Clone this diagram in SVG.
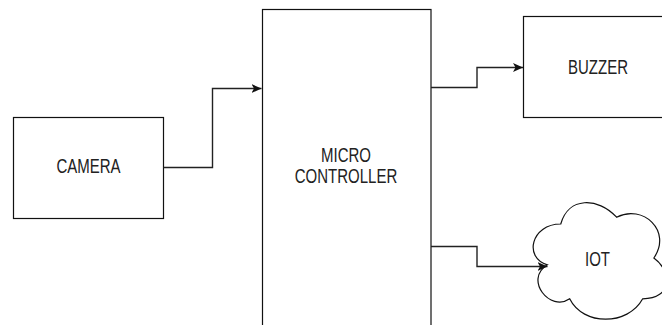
<svg xmlns="http://www.w3.org/2000/svg" width="662" height="325" viewBox="0 0 662 325">
<style>
.box{fill:#fff;stroke:#111;stroke-width:1.2}
.conn{fill:none;stroke:#222;stroke-width:1.4}
.lbl{font-family:"Liberation Sans",Arial,sans-serif;font-size:15px;fill:#222;text-anchor:middle}
</style>
<defs>
<marker id="arr" markerUnits="userSpaceOnUse" markerWidth="12" markerHeight="10" viewBox="-10 -5 12 10" refX="0" refY="0" orient="auto">
<path d="M-10,-4.5 L0,0 L-10,4.5 L-7.5,0 Z" fill="#111"/>
</marker>
</defs>
<rect width="662" height="325" fill="#fff"/>
<g id="camera">
<rect class="box" x="13.5" y="117.5" width="150" height="101"/>
<text class="lbl" transform="translate(88.5,172.5) scale(1,1.3)">CAMERA</text>
</g>
<g id="microcontroller">
<rect class="box" x="262.5" y="9.5" width="168.5" height="330"/>
<text class="lbl" transform="translate(346,161.5) scale(1,1.3)">MICRO</text>
<text class="lbl" transform="translate(346,182.5) scale(1,1.3)">CONTROLLER</text>
</g>
<g id="buzzer">
<rect class="box" x="523.5" y="16.5" width="149" height="101"/>
<text class="lbl" transform="translate(598,74) scale(1,1.3)">BUZZER</text>
</g>
<g id="iot">
<path class="box" d="M560.75,224 C530.95,224 523.5,258 547.34,264.8 C523.5,279.76 550.32,312.4 569.69,298.8 C583.1,326 627.8,326 642.7,298.8 C672.5,298.8 672.5,271.6 653.875,258 C672.5,230.8 642.7,203.6 616.625,217.2 C597.75,196.8 568.2,196.8 560.75,224 Z"/>
<text class="lbl" transform="translate(597.5,266) scale(1,1.3)">IOT</text>
</g>
<g id="connectors">
<path class="conn" d="M163.5,167.5 H212.5 V88.5 H261.5" marker-end="url(#arr)"/>
<path class="conn" d="M431,87.5 H477 V67.5 H523" marker-end="url(#arr)"/>
<path class="conn" d="M431,246.5 H477 V266.5 H547.5" marker-end="url(#arr)"/>
</g>
</svg>
